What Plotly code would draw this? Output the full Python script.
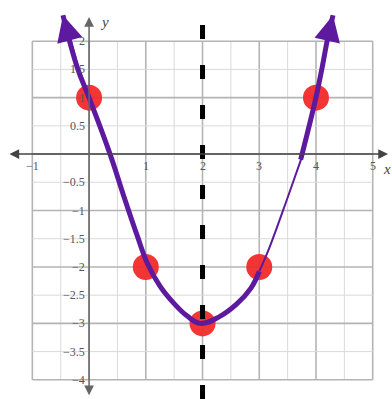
import numpy as np
import plotly.graph_objects as go

# Plotted points
pt_x = [0, 1, 2, 3, 4]
pt_y = [1, -2, -3, -2, 1]

# Hand-drawn parabola
curve_x = [-0.46, -0.21, 0.0, 0.37, 0.63, 0.85, 1.02, 1.25, 1.5, 1.73, 1.96, 2.3, 2.6, 2.85, 3.0]
curve_y = [2.46, 1.54, 1.0, 0.0, -0.8, -1.45, -1.92, -2.34, -2.65, -2.87, -3.0, -2.88, -2.66, -2.38, -2.08]
thin_x = [3.0, 3.19, 3.49, 3.77]
thin_y = [-2.08, -1.63, -0.8, 0.0]
right_x = [3.73, 3.99, 4.11, 4.2, 4.3]
right_y = [-0.1, 0.96, 1.54, 2.02, 2.46]

# Axis of symmetry
sym_x = [2, 2]
sym_y = [-4.34, 2.73]

x_ticks = [-1, 1, 2, 3, 4, 5]
y_ticks = [2, 1.5, 1, 0.5, -0.5, -1, -1.5, -2, -2.5, -3, -3.5, -4]
grid_vals_x = np.arange(-1, 5.01, 0.5)
grid_vals_y = np.arange(-4, 2.01, 0.5)

purple = "#5d1a9e"

fig = go.Figure()

# grid
for v in grid_vals_x:
    major = float(v).is_integer()
    fig.add_shape(type="line", x0=v, x1=v, y0=-4, y1=2, layer="below",
                  line=dict(color="#b4b4b4" if major else "#dadada", width=1.6 if major else 1))
for v in grid_vals_y:
    major = float(v).is_integer()
    fig.add_shape(type="line", x0=-1, x1=5, y0=v, y1=v, layer="below",
                  line=dict(color="#b4b4b4" if major else "#dadada", width=1.6 if major else 1))

# axes with arrows
fig.add_annotation(x=5.27, y=0, ax=-1.43, ay=0, xref="x", yref="y", axref="x", ayref="y",
                   showarrow=True, arrowside="end+start", arrowhead=2, arrowsize=1.3,
                   arrowwidth=1.5, arrowcolor="#444", text="")
fig.add_annotation(x=0, y=2.43, ax=0, ay=-4.3, xref="x", yref="y", axref="x", ayref="y",
                   showarrow=True, arrowside="end+start", arrowhead=2, arrowsize=1.3,
                   arrowwidth=1.5, arrowcolor="#666", text="")

# tick labels
tick_font = dict(family="Liberation Serif", size=12, color="#555")
for v in x_ticks:
    fig.add_annotation(x=v, y=-0.22, text=str(v).replace("-", "\u2212"), showarrow=False,
                       font=tick_font, xanchor="center", yanchor="middle")
for v in y_ticks:
    fig.add_annotation(x=-0.03, y=v, text=str(v).replace("-", "\u2212"), showarrow=False,
                       font=tick_font, xanchor="right", yanchor="middle")
fig.add_annotation(x=5.25, y=-0.26, text="<i>x</i>", showarrow=False,
                   font=dict(family="Liberation Serif", size=15, color="#444"))
fig.add_annotation(x=0.28, y=2.34, text="<i>y</i>", showarrow=False,
                   font=dict(family="Liberation Serif", size=15, color="#444"))

# red points
fig.add_trace(go.Scatter(x=pt_x, y=pt_y, mode="markers",
                         marker=dict(size=26, color="#f22a2a", opacity=0.95)))

# dashed axis of symmetry
fig.add_trace(go.Scatter(x=sym_x, y=sym_y, mode="lines",
                         line=dict(color="black", width=5, dash="14px,26px")))

# purple curve
fig.add_trace(go.Scatter(x=curve_x, y=curve_y, mode="lines", line_shape="spline",
                         line=dict(color=purple, width=5, smoothing=1.2)))
fig.add_trace(go.Scatter(x=thin_x, y=thin_y, mode="lines", line_shape="spline",
                         line=dict(color=purple, width=2)))
fig.add_trace(go.Scatter(x=right_x, y=right_y, mode="lines", line_shape="spline",
                         line=dict(color=purple, width=5)))

# arrow heads on the curve
fig.add_annotation(x=curve_x[0], y=curve_y[0], ax=curve_x[1], ay=curve_y[1],
                   xref="x", yref="y", axref="x", ayref="y", showarrow=True,
                   arrowhead=2, arrowsize=1.3, arrowwidth=4, arrowcolor=purple, text="")
fig.add_annotation(x=right_x[-1], y=right_y[-1], ax=right_x[-2], ay=right_y[-2],
                   xref="x", yref="y", axref="x", ayref="y", showarrow=True,
                   arrowhead=2, arrowsize=1.3, arrowwidth=4, arrowcolor=purple, text="")

fig.update_layout(
    width=392, height=399,
    margin=dict(l=0, r=0, t=0, b=0),
    plot_bgcolor="white", paper_bgcolor="white",
    showlegend=False,
    xaxis=dict(range=[-1.57, 5.34], visible=False, fixedrange=True),
    yaxis=dict(range=[-4.34, 2.73], visible=False, fixedrange=True),
)

fig.write_html("out.html", config={"displayModeBar": False},
               post_script="document.body.style.margin='0';")
